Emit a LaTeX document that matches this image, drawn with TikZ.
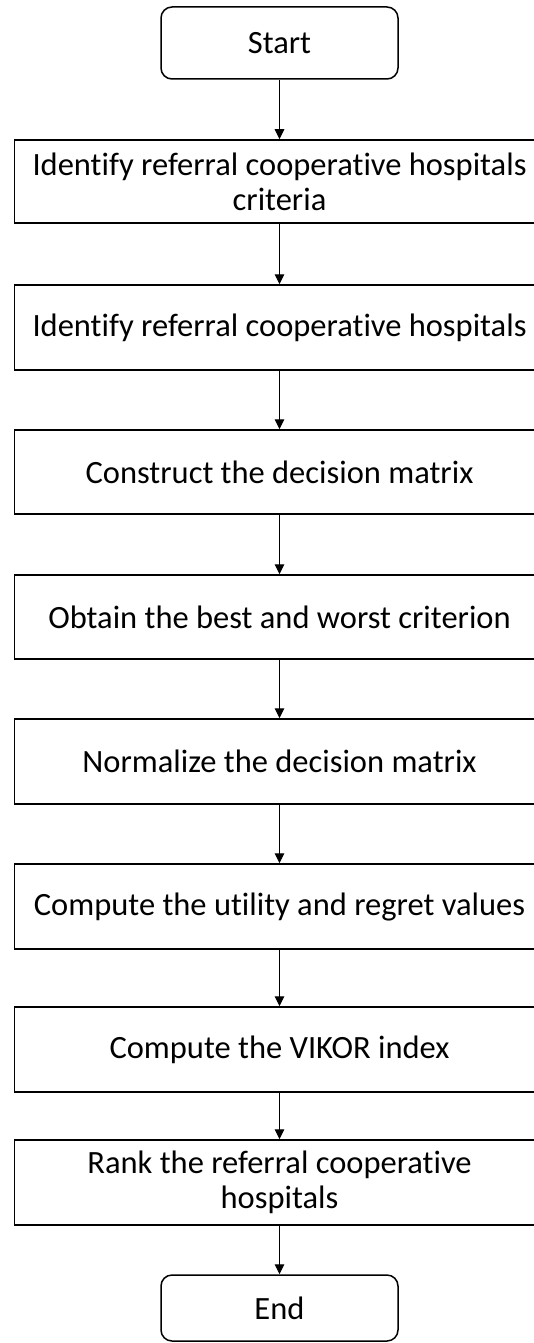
\documentclass[tikz,border=0pt]{standalone}
\usepackage{fontspec}
\setmainfont[Ligatures=NoCommon]{Carlito}
\usetikzlibrary{arrows.meta}
\begin{document}
\begin{tikzpicture}[x=1pt,y=-1pt,
  stepbox/.style={draw=black, line width=1.5pt, rectangle, minimum width=530pt, inner sep=0pt, align=center, font=\fontsize{32.5}{35}\selectfont},
  termbox/.style={draw=black, line width=1.5pt, rectangle, rounded corners=11pt, minimum width=237pt, inner sep=0pt, align=center, font=\fontsize{32.5}{35}\selectfont},
  flow/.style={draw=black, line width=1pt, -{Triangle[width=9.5pt,length=10pt]}}]
\useasboundingbox (0,0) rectangle (534,1343);
\node[termbox, minimum height=72pt] (start) at (279.5,43) {Start};
\node[stepbox, minimum height=83pt] (b1) at (279.5,181.5) {Identify referral cooperative hospitals\\criteria};
\node[stepbox, minimum height=85pt] (b2) at (279.5,327.5) {Identify referral cooperative hospitals};
\node[stepbox, minimum height=84pt] (b3) at (279.5,472) {Construct the decision matrix};
\node[stepbox, minimum height=84pt] (b4) at (279.5,617) {Obtain the best and worst criterion};
\node[stepbox, minimum height=85pt] (b5) at (279.5,761.5) {Normalize the decision matrix};
\node[stepbox, minimum height=85pt] (b6) at (279.5,906.5) {Compute the utility and regret values};
\node[stepbox, minimum height=85pt] (b7) at (279.5,1049.5) {Compute the VIKOR index};
\node[stepbox, minimum height=85pt] (b8) at (279.5,1182.5) {Rank the referral cooperative\\hospitals};
\node[termbox, minimum height=66pt] (end) at (279.5,1308) {End};
\draw[flow] (start.south) -- (b1.north);
\draw[flow] (b1.south) -- (b2.north);
\draw[flow] (b2.south) -- (b3.north);
\draw[flow] (b3.south) -- (b4.north);
\draw[flow] (b4.south) -- (b5.north);
\draw[flow] (b5.south) -- (b6.north);
\draw[flow] (b6.south) -- (b7.north);
\draw[flow] (b7.south) -- (b8.north);
\draw[flow] (b8.south) -- (end.north);
\end{tikzpicture}
\end{document}
